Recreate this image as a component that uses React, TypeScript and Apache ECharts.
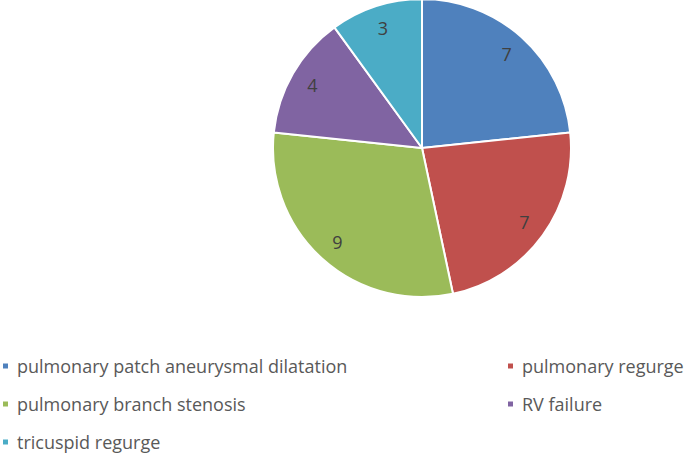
import React, { useEffect, useRef } from "react";
import * as echarts from "echarts";

const categories = [
  "pulmonary patch aneurysmal dilatation",
  "pulmonary regurge",
  "pulmonary branch stenosis",
  "RV failure",
  "tricuspid regurge",
];
const values = [7, 7, 9, 4, 3];
const colors = ["#4F81BD", "#C0504D", "#9BBB59", "#8064A2", "#4BACC6"];
const legendLeftColumn = [0, 2, 4];
const legendRightColumn = [1, 3];

const FONT = "'Open Sans', sans-serif";

export default function App() {
  const ref = useRef<HTMLDivElement>(null);
  useEffect(() => {
    document.body.style.margin = "0";
    const chart = echarts.init(ref.current!, undefined, { renderer: "svg" });
    const data = categories.map((name, i) => ({
      name,
      value: values[i],
      itemStyle: { color: colors[i] },
    }));
    const legendCommon = {
      orient: "vertical" as const,
      itemWidth: 7,
      itemHeight: 7,
      itemGap: 20,
      padding: 0,
      height: 130,
      icon: "rect",
      textStyle: { color: "#595959", fontSize: 18, fontFamily: FONT, padding: [0, 0, 0, 3] },
      selectedMode: false,
    };
    chart.setOption({
      animation: false,
      backgroundColor: "#ffffff",
      legend: [
        {
          ...legendCommon,
          left: 1,
          top: 357,
          data: legendLeftColumn.map((i) => ({ name: categories[i], itemStyle: { color: colors[i] } })),
        },
        {
          ...legendCommon,
          left: 506,
          top: 357,
          data: legendRightColumn.map((i) => ({ name: categories[i], itemStyle: { color: colors[i] } })),
        },
      ],
      series: [
        {
          type: "pie",
          center: [422, 148],
          radius: [0, 149],
          startAngle: 90,
          clockwise: true,
          silent: true,
          label: { show: false },
          labelLine: { show: false },
          itemStyle: { borderColor: "#ffffff", borderWidth: 2 },
          data,
        },
        {
          type: "pie",
          center: [422, 148],
          radius: [98, 149],
          startAngle: 90,
          clockwise: true,
          silent: true,
          legendHoverLink: false,
          label: {
            show: true,
            position: "inside",
            formatter: "{c}",
            color: "#404040",
            fontSize: 18,
            fontFamily: FONT,
          },
          labelLine: { show: false },
          itemStyle: { color: "transparent", borderWidth: 0 },
          data: categories.map((name, i) => ({ name: name + " ", value: values[i] })),
        },
      ],
    });
    return () => chart.dispose();
  }, []);
  return (
    <div
      ref={ref}
      style={{ position: "fixed", left: 0, top: 0, width: 685, height: 455 }}
    />
  );
}
